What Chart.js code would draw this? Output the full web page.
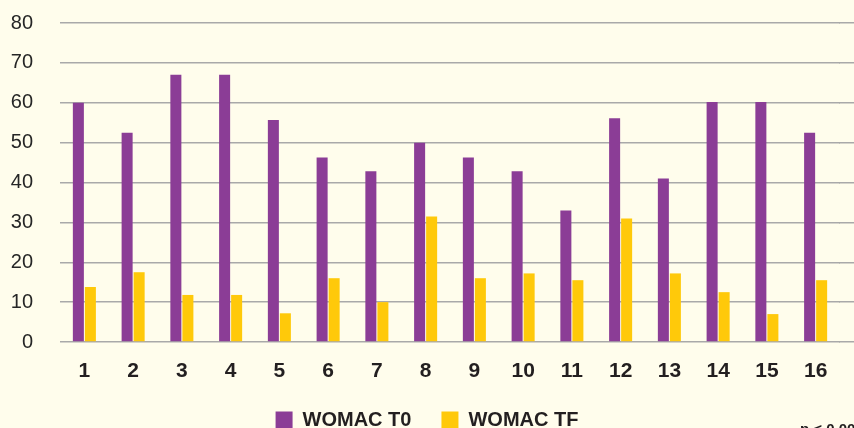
<!DOCTYPE html>
<html>
<head>
<meta charset="utf-8">
<script src="https://cdn.jsdelivr.net/npm/chart.js@4"></script>
<style>
  html, body { margin: 0; padding: 0; background: #FFFDEC; overflow: hidden; }
  #wrap { width: 854px; height: 428px; overflow: hidden; }
  canvas { display: block; }
</style>
</head>
<body>
<div id="wrap"><canvas id="grafico" width="854" height="440"></canvas></div>
<script>
// pacientes 1..16
const pacientes = ['1','2','3','4','5','6','7','8','9','10','11','12','13','14','15','16'];
const womacT0 = [60, 52.5, 67, 67, 55.7, 46.3, 42.8, 50, 46.3, 42.8, 33, 56.1, 41, 60.2, 60.2, 52.5];
const womacTF = [13.8, 17.5, 11.8, 11.8, 7.2, 16, 10, 31.5, 16, 17.2, 15.5, 31, 17.2, 12.5, 7, 15.5];
const yTicks = [0, 10, 20, 30, 40, 50, 60, 70, 80];
const nota = 'p < 0.001';

const fonte = '"Liberation Sans", Arial, Helvetica, sans-serif';
const corGrade = '#A9A9A9';
const larguraGrade = 1.5;

function alinha(px, w) {
    // mesmo arredondamento que o Chart.js usa na grade
    return Math.round(px - w / 2) + w / 2;
}

// as linhas da grade continuam ate a borda direita da imagem
const estendeGrade = {
    id: 'estendeGrade',
    beforeDatasetsDraw(chart) {
        const ctx = chart.ctx;
        const y = chart.scales.y;
        ctx.save();
        ctx.strokeStyle = corGrade;
        ctx.lineWidth = larguraGrade;
        yTicks.forEach(function(v) {
            const py = alinha(y.getPixelForValue(v), larguraGrade);
            ctx.beginPath();
            ctx.moveTo(chart.chartArea.right - 1, py);
            ctx.lineTo(chart.width, py);
            ctx.stroke();
        });
        ctx.restore();
    },
    afterDraw(chart) {
        // nota de significancia no canto inferior direito
        const ctx = chart.ctx;
        ctx.save();
        ctx.fillStyle = '#231F20';
        ctx.font = 'bold 15px ' + fonte;
        ctx.textBaseline = 'alphabetic';
        ctx.fillText(nota, 800, 434);
        ctx.restore();
    }
};

const ctx = document.getElementById('grafico').getContext('2d');
const myChart = new Chart(ctx, {
    type: 'bar',
    data: {
        labels: pacientes,
        datasets: [{
            label: 'WOMAC T0',
            data: womacT0,
            backgroundColor: '#8B3D96',
            categoryPercentage: 0.493,
            barPercentage: 0.917
        }, {
            label: 'WOMAC TF',
            data: womacTF,
            backgroundColor: '#FFC90A',
            categoryPercentage: 0.493,
            barPercentage: 0.917
        }]
    },
    options: {
        responsive: false,
        animation: false,
        layout: {
            padding: { top: 23, right: 0, left: 0, bottom: 0 }
        },
        plugins: {
            legend: {
                position: 'bottom',
                labels: {
                    boxWidth: 17,
                    boxHeight: 17,
                    padding: 30,
                    color: '#231F20',
                    font: { family: fonte, size: 20, weight: 'bold' }
                }
            },
            tooltip: { enabled: false }
        },
        scales: {
            x: {
                afterFit: function(scale) {
                    scale.height = 38;
                    scale.paddingRight = 14;
                },
                grid: { display: false, drawTicks: false },
                border: { display: false },
                ticks: {
                    color: '#231F20',
                    padding: 17,
                    font: { family: fonte, size: 21, weight: 'bold' }
                }
            },
            y: {
                min: 0,
                max: 80,
                afterFit: function(scale) {
                    scale.width = 60;
                    scale.paddingTop = 0;
                    scale.paddingBottom = 0;
                },
                afterBuildTicks: function(scale) {
                    scale.ticks = yTicks.map(function(v) { return { value: v }; });
                },
                grid: { color: corGrade, lineWidth: larguraGrade, drawTicks: false },
                border: { display: false },
                ticks: {
                    color: '#262626',
                    padding: 27,
                    font: { family: fonte, size: 20 }
                }
            }
        }
    },
    plugins: [estendeGrade]
});
</script>
</body>
</html>
